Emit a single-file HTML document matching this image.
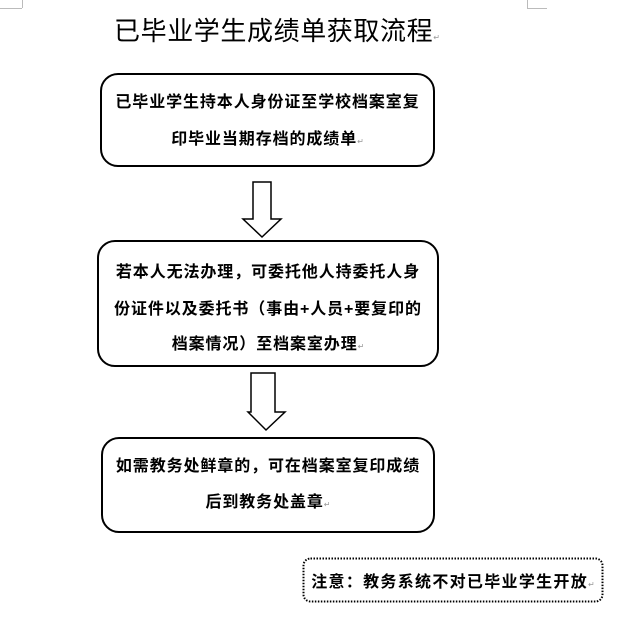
<!DOCTYPE html>
<html><head><meta charset="utf-8"><style>
body{margin:0;width:620px;height:637px;background:#fff;position:relative;overflow:hidden;font-family:"Liberation Sans","Noto Sans CJK SC",sans-serif;}
.t{position:absolute;white-space:nowrap;color:#000;}
.b{position:absolute;border:2px solid #000;border-radius:18px;box-sizing:border-box;}
.l{position:absolute;font-weight:bold;font-size:16px;letter-spacing:0.9px;white-space:nowrap;text-align:center;line-height:20px;}
.r{font-size:8px;color:#999;font-weight:normal;letter-spacing:0}
.m{position:absolute;background:#bbb}
</style></head><body>
<div class="m" style="left:22px;top:0;width:1px;height:8px"></div>
<div class="m" style="left:0;top:8px;width:22px;height:1px"></div>
<div class="m" style="left:527px;top:0;width:1px;height:8px"></div>
<div class="m" style="left:527px;top:8px;width:20px;height:1px"></div>
<div class="t" style="left:114px;top:11px;font-size:26px;letter-spacing:0.6px;line-height:40px">已毕业学生成绩单获取流程<span class="r">↵</span></div>

<div class="b" style="left:100px;top:73px;width:335px;height:94px"></div>
<div class="l" style="left:100px;width:335px;top:93px">已毕业学生持本人身份证至学校档案室复</div>
<div class="l" style="left:100px;width:335px;top:130px">印毕业当期存档的成绩单<span class="r">↵</span></div>

<div class="b" style="left:97px;top:240px;width:342px;height:127px"></div>
<div class="l" style="left:97px;width:342px;top:263px">若本人无法办理，可委托他人持委托人身</div>
<div class="l" style="left:97px;width:342px;top:300px">份证件以及委托书（事由+人员+要复印的</div>
<div class="l" style="left:97px;width:342px;top:335px">档案情况）至档案室办理<span class="r">↵</span></div>

<div class="b" style="left:101px;top:437px;width:334px;height:96px"></div>
<div class="l" style="left:101px;width:334px;top:457px">如需教务处鲜章的，可在档案室复印成绩</div>
<div class="l" style="left:101px;width:334px;top:493px">后到教务处盖章<span class="r">↵</span></div>

<svg style="position:absolute;left:0;top:0" width="620" height="637">
<polygon points="253,182 271,182 271,219 281,219 262,237 243,219 253,219" fill="#fff" stroke="#000" stroke-width="1.5"/>
<polygon points="251,373 275,373 275,412 285,412 266,430 248,412 251,412" fill="#fff" stroke="#000" stroke-width="1.5"/>
<rect x="303.5" y="558.5" width="299" height="43" rx="7" fill="none" stroke="#000" stroke-width="2" stroke-dasharray="1.5,1.5"/>
</svg>
<div class="l" style="left:303px;width:300px;top:573px;letter-spacing:1.3px">注意：教务系统不对已毕业学生开放<span class="r">↵</span></div>
</body></html>
